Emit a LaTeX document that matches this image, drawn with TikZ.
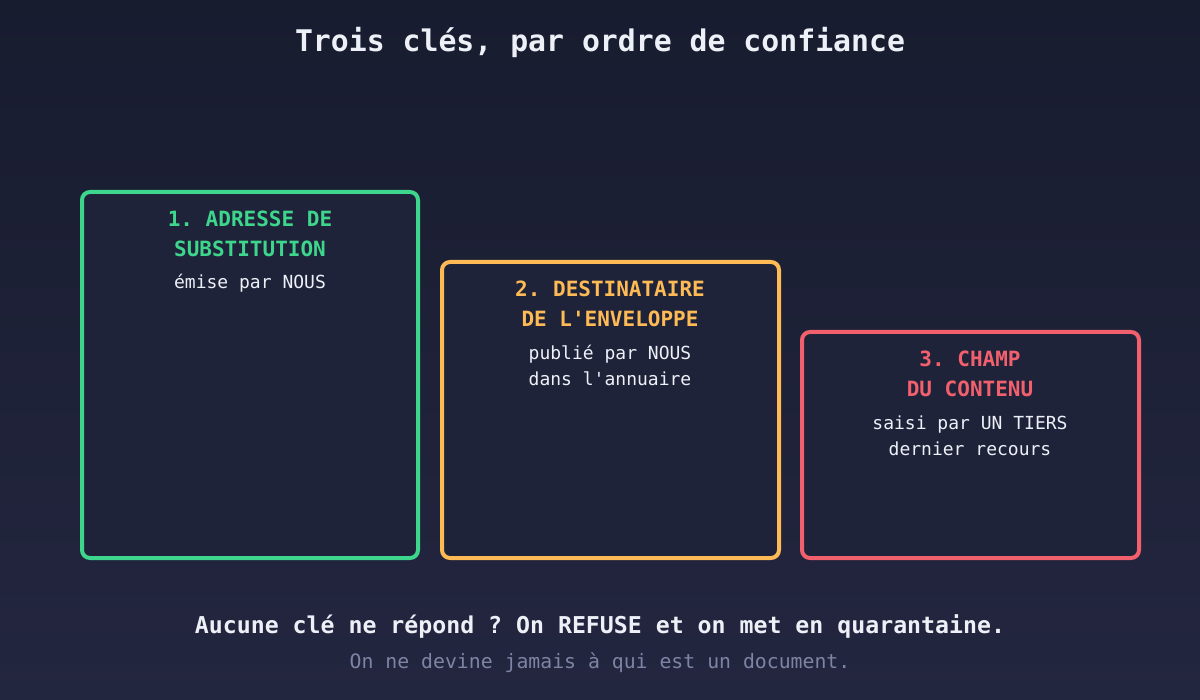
\documentclass[tikz,border=0pt]{standalone}
\usepackage{fontspec}
\setmainfont{DejaVu Sans Mono}[Ligatures=TeXOff]
\setmonofont{DejaVu Sans Mono}[Ligatures=TeXOff]
\frenchspacing
\definecolor{bgtop}{HTML}{181C2F}
\definecolor{bgbot}{HTML}{23263F}
\definecolor{boxfill}{HTML}{1F2339}
\definecolor{kgreen}{HTML}{3DD68C}
\definecolor{korange}{HTML}{FDBA55}
\definecolor{kred}{HTML}{F2606E}
\definecolor{ktext}{HTML}{EEF0F8}
\definecolor{kgray}{HTML}{7E84A3}
\tikzset{
  keybox/.style={line width=4pt, rounded corners=8pt, fill=boxfill},
  keytitle/.style={anchor=base, font=\fontsize{21}{25}\selectfont\bfseries, inner sep=0pt},
  keysub/.style={anchor=base, font=\fontsize{18}{22}\selectfont, text=ktext, inner sep=0pt},
}
\begin{document}
\begin{tikzpicture}[x=1pt,y=-1pt]
\useasboundingbox (0,0) rectangle (1200,700);
\shade[top color=bgtop, bottom color=bgbot] (0,0) rectangle (1200,700);
\node[anchor=base, inner sep=0pt, text=ktext, font=\fontsize{29.8}{34}\selectfont\bfseries] (title) at (600,52) {Trois clés, par ordre de confiance};
% box 1
\draw[keybox, draw=kgreen] (82,192) rectangle (418,558);
\node[keytitle, text=kgreen] (t1a) at (250,227) {1. ADRESSE DE};
\node[keytitle, text=kgreen] (t1b) at (250,257) {SUBSTITUTION};
\node[keysub] (s1) at (250,289) {émise par NOUS};
% box 2
\draw[keybox, draw=korange] (442,262) rectangle (779,558);
\node[keytitle, text=korange] (t2a) at (610,297) {2. DESTINATAIRE};
\node[keytitle, text=korange] (t2b) at (610,327) {DE L'ENVELOPPE};
\node[keysub] (s2a) at (610,360) {publié par NOUS};
\node[keysub] (s2b) at (610,386) {dans l'annuaire};
% box 3
\draw[keybox, draw=kred] (802,332) rectangle (1139,558);
\node[keytitle, text=kred] (t3a) at (970,367) {3. CHAMP};
\node[keytitle, text=kred] (t3b) at (970,397) {DU CONTENU};
\node[keysub] (s3a) at (970,430) {saisi par UN TIERS};
\node[keysub] (s3b) at (970,456) {dernier recours};
% bottom
\node[anchor=base, inner sep=0pt, text=ktext, font=\fontsize{23.2}{27}\selectfont\bfseries] (b1) at (600,633) {Aucune clé ne répond ? On REFUSE et on met en quarantaine.};
\node[anchor=base, inner sep=0pt, text=kgray, font=\fontsize{19.8}{24}\selectfont] (b2) at (600,668) {On ne devine jamais à qui est un document.};
\end{tikzpicture}
\end{document}
